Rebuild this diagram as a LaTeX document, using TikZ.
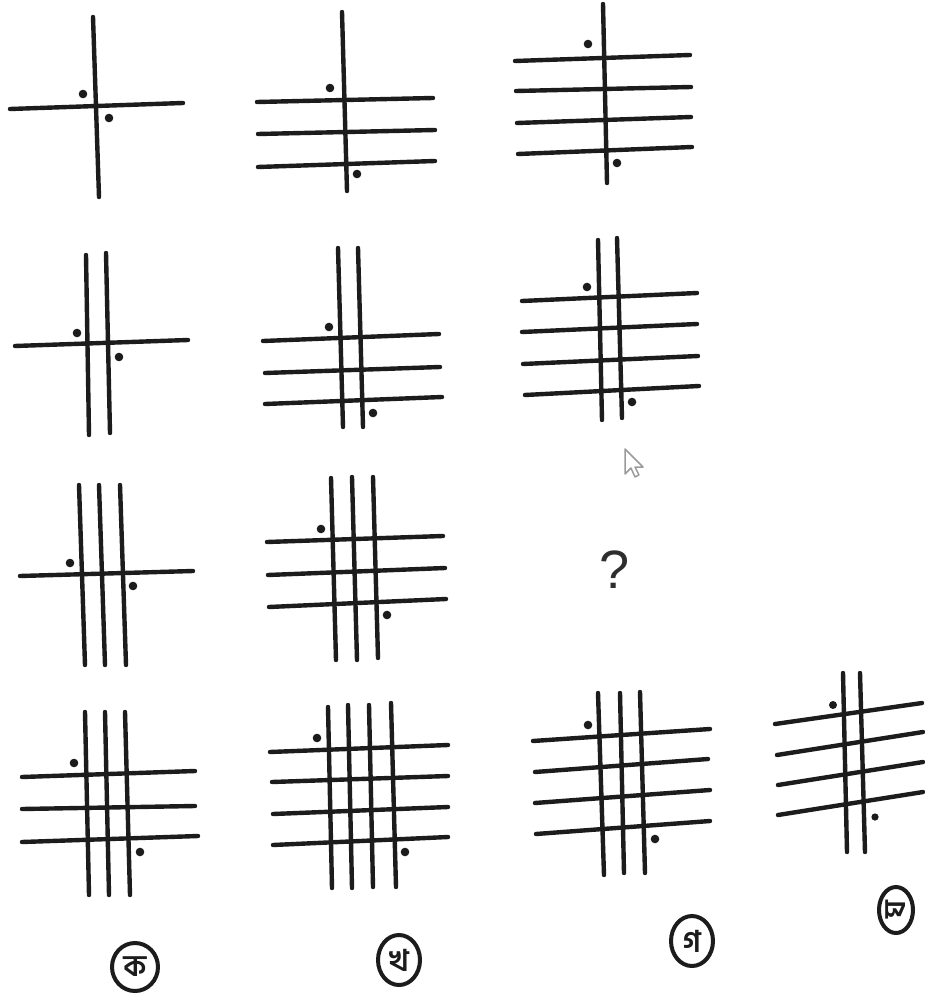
\documentclass[tikz,border=0pt]{standalone}
\usepackage{fontspec}
\setmainfont{Liberation Sans}
\newfontfamily\bnfont[Script=Bengali]{Hind Siliguri}
\definecolor{ink}{HTML}{1C1C1C}
\definecolor{qmark}{HTML}{2E2E2E}
\definecolor{curs}{HTML}{9A9A9A}
\begin{document}
\begin{tikzpicture}[x=1pt,y=-1pt,
  ln/.style={line width=4.4pt, draw=ink, line cap=round},
  dotmark/.style={fill=ink, draw=none},
  ring/.style={line width=4pt, draw=ink},
  lbl/.style={font=\bnfont\bfseries\fontsize{30}{30}\selectfont, text=ink, inner sep=0pt}]
\useasboundingbox (0,0) rectangle (925,995);
\fill[white] (0,0) rectangle (925,995);
% ---------- row 1 ----------
% F1
\draw[ln] (93,17) -- (99,197);
\draw[ln] (10,109) -- (183,103);
\fill[dotmark] (83,94) circle (4.3) (109,118) circle (4.3);
% F2
\draw[ln] (342,12) -- (347,191);
\draw[ln] (257,102) -- (433,98);
\draw[ln] (258,134) -- (435,130);
\draw[ln] (258,167) -- (435,161);
\fill[dotmark] (330,88) circle (4.3) (357,174) circle (4.3);
% F3
\draw[ln] (603,4) -- (607,183);
\draw[ln] (515,61) -- (690,55);
\draw[ln] (516,91) -- (691,87);
\draw[ln] (517,123) -- (691,117);
\draw[ln] (518,154) -- (692,147);
\fill[dotmark] (588,44) circle (4.3) (617,163) circle (4.3);
% ---------- row 2 ----------
% F4
\draw[ln] (86,255) -- (89,435);
\draw[ln] (106,253) -- (110,433);
\draw[ln] (15,346) -- (188,340);
\fill[dotmark] (77,333) circle (4.3) (119,357) circle (4.3);
% F5
\draw[ln] (338,248) -- (343,427);
\draw[ln] (358,248) -- (363,427);
\draw[ln] (263,341) -- (439,334);
\draw[ln] (265,373) -- (440,367);
\draw[ln] (265,404) -- (442,397);
\fill[dotmark] (329,327) circle (4.3) (373,413) circle (4.3);
% F6
\draw[ln] (598,240) -- (602,420);
\draw[ln] (617,238) -- (622,418);
\draw[ln] (522,301) -- (697,293);
\draw[ln] (522,332) -- (697,324);
\draw[ln] (523,364) -- (698,356);
\draw[ln] (525,395) -- (699,386);
\fill[dotmark] (587,287) circle (4.3) (632,402) circle (4.3);
% cursor
\draw[curs, line width=1.5pt, fill=white, line join=round, shift={(625,449)}]
  (0,0) -- (0,25) -- (6,19) -- (10,28) -- (14,26) -- (10,18) -- (18,18) -- cycle;
% ---------- row 3 ----------
% F7
\draw[ln] (79,485) -- (85,665);
\draw[ln] (99,485) -- (105,665);
\draw[ln] (120,485) -- (126,665);
\draw[ln] (20,576) -- (193,571);
\fill[dotmark] (70,563) circle (4.3) (133,586) circle (4.3);
% F8
\draw[ln] (331,478) -- (336,660);
\draw[ln] (352,477) -- (357,660);
\draw[ln] (373,477) -- (378,658);
\draw[ln] (267,542) -- (443,536);
\draw[ln] (268,575) -- (445,568);
\draw[ln] (269,607) -- (446,599);
\fill[dotmark] (321,529) circle (4.3) (387,615) circle (4.3);
% question mark
\node[font=\fontsize{54}{54}\selectfont, text=qmark, inner sep=0pt] (q) at (615,570) {?};
% ---------- row 4 (options) ----------
% F9
\draw[ln] (85,712) -- (89,895);
\draw[ln] (105,712) -- (109,895);
\draw[ln] (125,712) -- (130,895);
\draw[ln] (22,777) -- (195,771);
\draw[ln] (22,809) -- (195,806);
\draw[ln] (22,842) -- (198,836);
\fill[dotmark] (74,763) circle (4.3) (140,852) circle (4.3);
% F10
\draw[ln] (328,707) -- (332,888);
\draw[ln] (348,705) -- (352,888);
\draw[ln] (369,705) -- (373,887);
\draw[ln] (391,703) -- (396,887);
\draw[ln] (270,752) -- (448,745);
\draw[ln] (272,782) -- (448,776);
\draw[ln] (273,814) -- (448,807);
\draw[ln] (273,845) -- (448,837);
\fill[dotmark] (317,738) circle (4.3) (405,852) circle (4.3);
% F11
\draw[ln] (598,693) -- (604,875);
\draw[ln] (620,693) -- (624,873);
\draw[ln] (640,692) -- (645,873);
\draw[ln] (533,741) -- (710,729);
\draw[ln] (535,772) -- (708,759);
\draw[ln] (535,803) -- (710,790);
\draw[ln] (536,834) -- (710,821);
\fill[dotmark] (588,725) circle (4.3) (655,839) circle (4.3);
% F12
\draw[ln] (843,673) -- (847,852);
\draw[ln] (860,673) -- (865,852);
\draw[ln] (775,724) -- (922,703);
\draw[ln] (777,755) -- (923,732);
\draw[ln] (778,785) -- (923,762);
\draw[ln] (778,815) -- (923,792);
\fill[dotmark] (833,705) circle (4) (875,817) circle (3.6);
% labels
\node[lbl] (ka) at (135,967) {ক};
\draw[ring] (ka.center) ellipse [x radius=23, y radius=24];
\node[lbl] (kha) at (399,960) {খ};
\draw[ring] (kha.center) ellipse [x radius=21, y radius=25];
\node[lbl] (ga) at (692,941) {গ};
\draw[ring] (ga.center) ellipse [x radius=21, y radius=25];
\node[lbl, rotate=90] (gha) at (896,910) {ঘ};
\draw[ring] (gha.center) ellipse [x radius=17, y radius=23];
\end{tikzpicture}
\end{document}
